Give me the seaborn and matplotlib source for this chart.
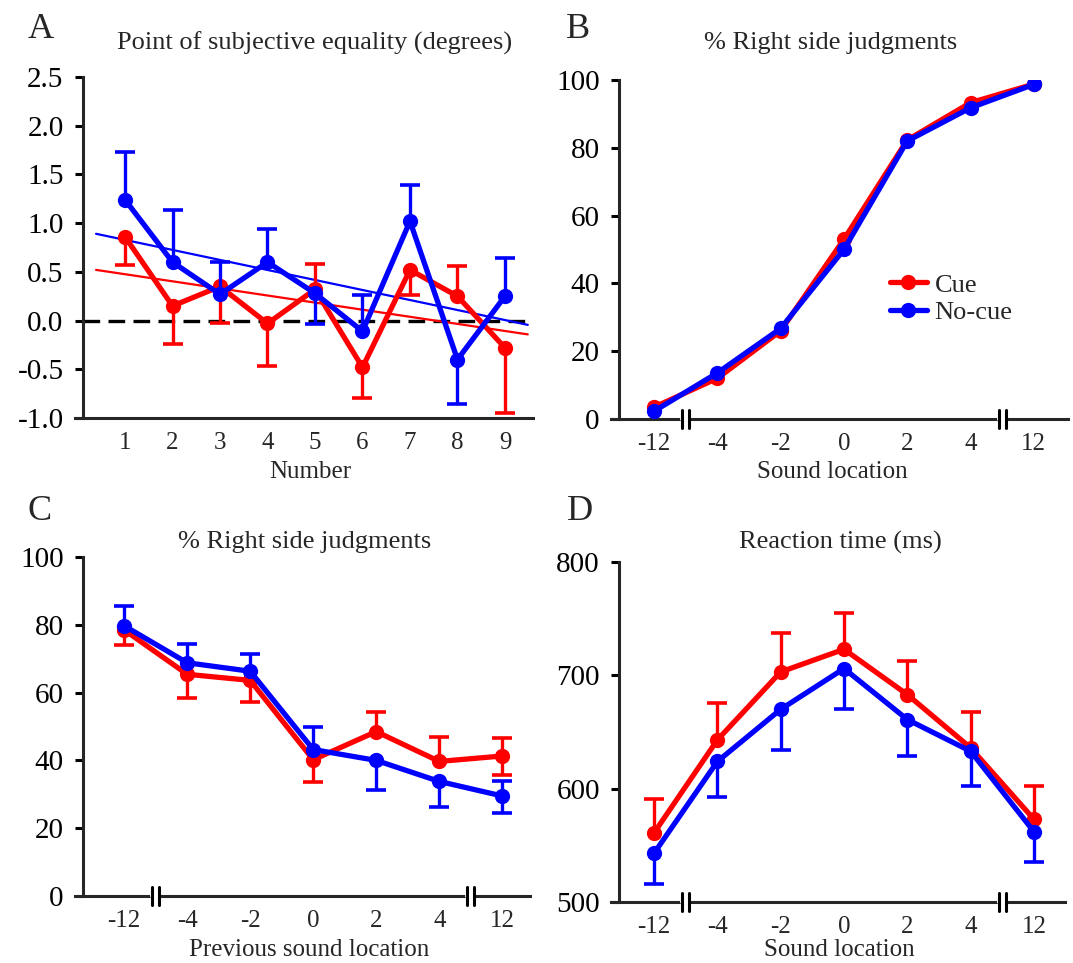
import numpy as np
import pandas as pd
import seaborn as sns
import matplotlib.pyplot as plt
import matplotlib.transforms as mtransforms

# ---- data ----
numbers = [1, 2, 3, 4, 5, 6, 7, 8, 9]
pse_cue = [0.86, 0.15, 0.35, -0.03, 0.32, -0.48, 0.52, 0.25, -0.28]
pse_cue_lo = [0.29, 0.39, 0.38, 0.44, 0.0, 0.31, 0.26, 0.0, 0.67]
pse_cue_hi = [0.0, 0.0, 0.0, 0.0, 0.26, 0.0, 0.0, 0.31, 0.0]
pse_nocue = [1.24, 0.60, 0.27, 0.60, 0.28, -0.11, 1.02, -0.40, 0.25]
pse_nocue_lo = [0.0, 0.0, 0.0, 0.0, 0.32, 0.0, 0.0, 0.46, 0.0]
pse_nocue_hi = [0.49, 0.54, 0.33, 0.34, 0.0, 0.37, 0.37, 0.0, 0.39]

locations = ["-12", "-4", "-2", "0", "2", "4", "12"]
right_cue = [3.5, 12.0, 26.0, 53.0, 82.3, 93.3, 98.8]
right_nocue = [2.3, 13.6, 26.7, 50.0, 82.0, 91.8, 98.7]

prev_cue = [78.5, 65.4, 63.6, 40.2, 48.5, 39.7, 41.3]
prev_cue_lo = [4.4, 6.9, 6.5, 6.5, 0.0, 0.0, 5.5]
prev_cue_hi = [0.0, 0.0, 0.0, 0.0, 5.9, 7.1, 5.4]
prev_nocue = [79.7, 68.8, 66.3, 43.2, 40.0, 33.8, 29.5]
prev_nocue_lo = [0.0, 0.0, 0.0, 0.0, 8.6, 7.6, 4.9]
prev_nocue_hi = [5.9, 5.4, 5.2, 6.6, 0.0, 0.0, 4.3]

rt_cue = [561, 643, 703, 723, 683, 636, 573]
rt_cue_lo = [0, 0, 0, 0, 0, 0, 0]
rt_cue_hi = [30, 33, 34, 32, 30, 32, 29]
rt_nocue = [543, 624, 670, 706, 661, 633, 562]
rt_nocue_lo = [27, 31, 36, 36, 32, 31, 27]
rt_nocue_hi = [0, 0, 0, 0, 0, 0, 0]

RED = "#ff0000"
BLUE = "#0000ff"
W, H = 1073, 963

sns.set_style("ticks")
plt.rcParams["font.family"] = ["Liberation Serif", "DejaVu Serif"]
plt.rcParams["axes.unicode_minus"] = False
plt.rcParams["axes.linewidth"] = 2.2

fig = plt.figure(figsize=(W / 100, H / 100), dpi=100)


def box(x0, y_top, x1, y_bot):
    # pixel box -> figure fraction
    return [x0 / W, 1 - y_bot / H, (x1 - x0) / W, (y_bot - y_top) / H]


def ftext(x, y, s, size, **kw):
    fig.text(x / W, 1 - y / H, s, fontsize=size, ha="center", va="center", **kw)


def series(ax, x, y, lo, hi, color, z, label=None):
    x = np.asarray(x, float)
    y = np.asarray(y, float)
    lo = np.asarray(lo, float)
    hi = np.asarray(hi, float)
    for err, sign in ((lo, -1), (hi, 1)):
        m = err > 0
        if m.any():
            ends = y[m] + sign * err[m]
            ax.vlines(x[m], y[m], ends, color=color, lw=2.4, zorder=z)
            ax.plot(x[m], ends, ls="none", marker="_", markersize=15,
                    mew=2.6, color=color, zorder=z)
    sns.lineplot(x=x, y=y, ax=ax, color=color, lw=3.8, marker="o",
                 markersize=11, markeredgewidth=0, zorder=z + 0.5,
                 label=label, legend=label is not None, errorbar=None)


def style(ax, xmin, xmax, spine_x, ylim, yticks):
    ax.set_xlim(xmin, xmax)
    ax.set_ylim(*ylim)
    ax.set_yticks(yticks)
    sns.despine(ax=ax)
    ax.spines["left"].set_position(("data", spine_x))
    ax.tick_params(axis="y", direction="out", length=6, width=2.2,
                   labelsize=21, pad=8, colors="black")
    ax.tick_params(axis="x", length=0, labelsize=18, pad=10)
    ax.set_xlabel("")
    ax.set_ylabel("")


def breaks(ax, xs, unit_px):
    tr = mtransforms.blended_transform_factory(ax.transData, ax.transAxes)
    d = 3.5 / unit_px
    h = 9 / (ax.get_position().height * H)
    for b in xs:
        ax.plot([b - d, b + d], [0, 0], color="white", lw=3, transform=tr,
                clip_on=False, zorder=6)
        for xx in (b - d, b + d):
            ax.plot([xx, xx], [-h, h], color="black", lw=2.2, transform=tr,
                    clip_on=False, zorder=7)


# ---- A ----
axA = fig.add_axes(box(75, 77, 533, 418))
fx = np.array([0.39, 9.48])
for vals, col in ((pse_nocue, BLUE), (pse_cue, RED)):
    k, b = np.polyfit(numbers, vals, 1)
    sns.lineplot(x=fx, y=k * fx + b, ax=axA, color=col, lw=1.6, zorder=2.5)
axA.axhline(0, xmin=0.018, color="black", lw=2.4, dashes=(5, 2.5), zorder=2)
series(axA, numbers, pse_cue, pse_cue_lo, pse_cue_hi, RED, 3)
series(axA, numbers, pse_nocue, pse_nocue_lo, pse_nocue_hi, BLUE, 4)
style(axA, -0.053, 9.59, 0.116, (-1.0, 2.5), np.arange(-1.0, 2.51, 0.5))
axA.set_xticks(numbers)
axA.set_yticklabels([f"{v:.1f}" for v in np.arange(-1.0, 2.51, 0.5)])

pos = np.arange(len(locations))

# ---- B ----
axB = fig.add_axes(box(611, 80, 1068, 419))
sns.lineplot(x=pos, y=right_cue, ax=axB, color=RED, lw=3.8, marker="o",
             markersize=11, markeredgewidth=0, label="Cue", zorder=3)
sns.lineplot(x=pos, y=right_nocue, ax=axB, color=BLUE, lw=3.8, marker="o",
             markersize=11, markeredgewidth=0, label="No-cue", zorder=4)
style(axB, -0.68, 6.54, -0.55, (0, 100), range(0, 101, 20))
axB.set_xticks(pos)
axB.set_xticklabels(locations)
breaks(axB, [0.5, 5.5], 63.3)
axB.legend(loc="upper left", bbox_to_anchor=(0.61, 0.43), frameon=False,
           fontsize=19, handlelength=1.4, handletextpad=0.3,
           labelspacing=0.15, borderpad=0, borderaxespad=0)

# ---- C ----
axC = fig.add_axes(box(75, 557, 530, 896))
series(axC, pos, prev_cue, prev_cue_lo, prev_cue_hi, RED, 3)
series(axC, pos, prev_nocue, prev_nocue_lo, prev_nocue_hi, BLUE, 4)
style(axC, -0.78, 6.44, -0.65, (0, 100), range(0, 101, 20))
axC.set_xticks(pos)
axC.set_xticklabels(locations)
breaks(axC, [0.5, 5.5], 63.0)

# ---- D ----
axD = fig.add_axes(box(611, 562, 1065, 902))
series(axD, pos, rt_cue, rt_cue_lo, rt_cue_hi, RED, 3)
series(axD, pos, rt_nocue, rt_nocue_lo, rt_nocue_hi, BLUE, 4)
style(axD, -0.68, 6.49, -0.55, (500, 800), range(500, 801, 100))
axD.set_xticks(pos)
axD.set_xticklabels(locations)
breaks(axD, [0.5, 5.5], 63.3)

# ---- texts ----
ftext(315, 43, "Point of subjective equality (degrees)", 19)
ftext(831, 43, "% Right side judgments", 19)
ftext(305, 542, "% Right side judgments", 19)
ftext(840, 542, "Reaction time (ms)", 19)
ftext(310, 472, "Number", 18)
ftext(832, 472, "Sound location", 18)
ftext(309, 950, "Previous sound location", 18)
ftext(839, 950, "Sound location", 18)
for x, y, s in ((41, 30, "A"), (578, 30, "B"), (40, 512, "C"), (580, 512, "D")):
    ftext(x, y, s, 26)

fig.savefig("out.png", dpi=100)
